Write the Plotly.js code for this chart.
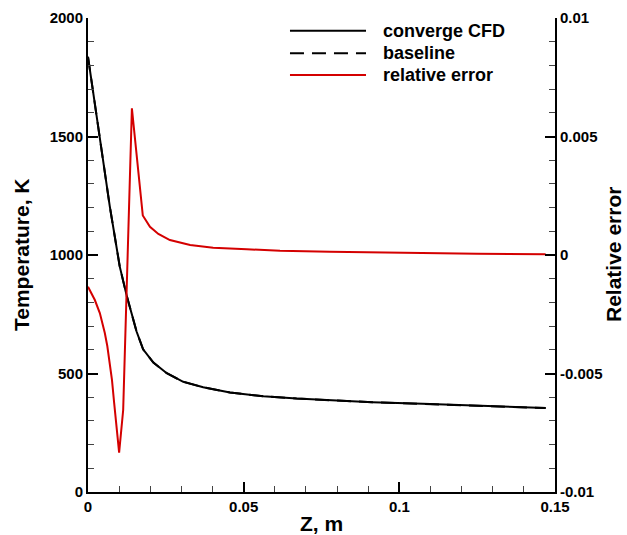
<!DOCTYPE html>
<html>
<head>
<meta charset="utf-8">
<script src="https://cdn.plot.ly/plotly-3.0.1.min.js"></script>
<style>html,body{margin:0;padding:0;background:#fff;}#chart{width:627px;height:535px;}</style>
</head>
<body>
<div id="chart"></div>
<script>
// Temperature along Z (converge CFD)
const zCFD = [0, 0.0038, 0.0070, 0.0102, 0.0124, 0.0156, 0.0177, 0.0210, 0.0253, 0.0306, 0.0370, 0.0456, 0.0563, 0.0670, 0.0777, 0.0913, 0.1075, 0.1284, 0.147];
const tempCFD = [1836, 1500, 1205, 951, 830, 677, 602, 546, 501, 465, 442, 420, 404, 394, 387, 379, 372, 362, 354];
// Baseline (lies on top of converge CFD in the picture)
const zBase = [0, 0.0038, 0.0070, 0.0102, 0.0124, 0.0156, 0.0177, 0.0210, 0.0253, 0.0306, 0.0370, 0.0456, 0.0563, 0.0670, 0.0777, 0.0913, 0.1075, 0.1284, 0.147];
const tempBase = [1836, 1500, 1205, 951, 830, 677, 602, 546, 501, 465, 442, 420, 404, 394, 387, 379, 372, 362, 354];
// Relative error
const zErr = [0, 0.0012, 0.0022, 0.0038, 0.0054, 0.0062, 0.0070, 0.0077, 0.0084, 0.0092, 0.0100, 0.0113, 0.0141, 0.0176, 0.0199, 0.0226, 0.0263, 0.0328, 0.0402, 0.0510, 0.0617, 0.0777, 0.0900, 0.1075, 0.1250, 0.147];
const relErr = [-0.00134, -0.00162, -0.0019, -0.00245, -0.00329, -0.00384, -0.00456, -0.00527, -0.00624, -0.00724, -0.00834, -0.00654, 0.00619, 0.00167, 0.00119, 0.00089, 0.00063, 0.00042, 0.00031, 0.00024, 0.00018, 0.00014, 0.00011, 0.00007, 0.00005, 0.00003];

const seriesNames = ["converge CFD", "baseline", "relative error"];
const xTicks = [0, 0.05, 0.1, 0.15];
const xTickText = ["0", "0.05", "0.1", "0.15"];
const y1Ticks = [0, 500, 1000, 1500, 2000];
const y1TickText = ["0", "500", "1000", "1500", "2000"];
const y2Ticks = [-0.01, -0.005, 0, 0.005, 0.01];
const y2TickText = ["-0.01", "-0.005", "0", "0.005", "0.01"];
const axisTitles = ["Z, m", "Temperature, K", "Relative error"];

const FONT = "Liberation Sans, Arial, Helvetica, sans-serif";
const tickFont = {family: FONT, size: 15, color: "#000", weight: "bold"};
const titleFont = {family: FONT, size: 21, color: "#000", weight: "bold"};
const legFont = {family: FONT, size: 18, color: "#000", weight: "bold"};

const traces = [
  {x: zCFD, y: tempCFD, name: seriesNames[0], mode: "lines", line: {color: "#000", width: 2}, yaxis: "y"},
  {x: zBase, y: tempBase, name: seriesNames[1], mode: "lines", line: {color: "#000", width: 2, dash: "14px,8px"}, yaxis: "y"},
  {x: zErr, y: relErr, name: seriesNames[2], mode: "lines", line: {color: "#d40000", width: 2}, yaxis: "y2"}
];

// manual legend (long line samples like the reference)
const legY = [0.9732, 0.9255, 0.8797];
const legColor = ["#000", "#000", "#d40000"];
const shapes = [], annotations = [];
for (let i = 0; i < 3; i++) {
  shapes.push({type: "line", xref: "paper", yref: "paper", x0: 0.4325, x1: 0.5953, y0: legY[i], y1: legY[i],
    line: {color: legColor[i], width: 2, dash: i === 1 ? "14px,8px" : "solid"}});
  annotations.push({xref: "paper", yref: "paper", x: 0.6274, y: legY[i], xanchor: "left", yanchor: "middle",
    text: seriesNames[i], showarrow: false, font: legFont});
}
// vertical axis titles placed like the reference
annotations.push({xref: "paper", yref: "paper", x: (21 - 88) / 467, y: 0.5, xanchor: "center", yanchor: "middle",
  textangle: -90, text: axisTitles[1], showarrow: false, font: titleFont});
annotations.push({xref: "paper", yref: "paper", x: (613 - 88) / 467, y: 0.5, xanchor: "center", yanchor: "middle",
  textangle: -90, text: axisTitles[2], showarrow: false, font: titleFont});

const minorCommon = {ticks: "inside", ticklen: 6, tickwidth: 1, tickcolor: "#444"};

const layout = {
  width: 627, height: 535,
  margin: {l: 88, r: 72, t: 18, b: 43, pad: 0},
  paper_bgcolor: "#fff", plot_bgcolor: "#fff",
  showlegend: false,
  xaxis: {
    range: [0, 0.15], tickvals: xTicks, ticktext: xTickText,
    ticks: "inside", ticklen: 10, tickwidth: 2, tickcolor: "#000",
    minor: Object.assign({dtick: 0.01, tick0: 0}, minorCommon),
    showline: true, linewidth: 2, linecolor: "#000", mirror: false,
    showgrid: false, zeroline: false, tickfont: tickFont,
    title: {text: axisTitles[0], font: titleFont, standoff: 4}
  },
  yaxis: {
    range: [0, 2000], tickvals: y1Ticks, ticktext: y1TickText,
    ticks: "inside", ticklen: 10, tickwidth: 2, tickcolor: "#000",
    minor: Object.assign({dtick: 100, tick0: 0}, minorCommon),
    showline: true, linewidth: 2, linecolor: "#000",
    showgrid: false, zeroline: false, tickfont: tickFont,
    title: {text: ""}
  },
  yaxis2: {
    overlaying: "y", side: "right",
    range: [-0.01, 0.01], tickvals: y2Ticks, ticktext: y2TickText,
    ticks: "inside", ticklen: 10, tickwidth: 2, tickcolor: "#000",
    minor: Object.assign({dtick: 0.001, tick0: 0}, minorCommon),
    showline: true, linewidth: 2, linecolor: "#000",
    showgrid: false, zeroline: false, tickfont: tickFont,
    title: {text: ""}
  },
  shapes: shapes,
  annotations: annotations
};

Plotly.newPlot("chart", traces, layout, {displayModeBar: false, staticPlot: true});
</script>
</body>
</html>
